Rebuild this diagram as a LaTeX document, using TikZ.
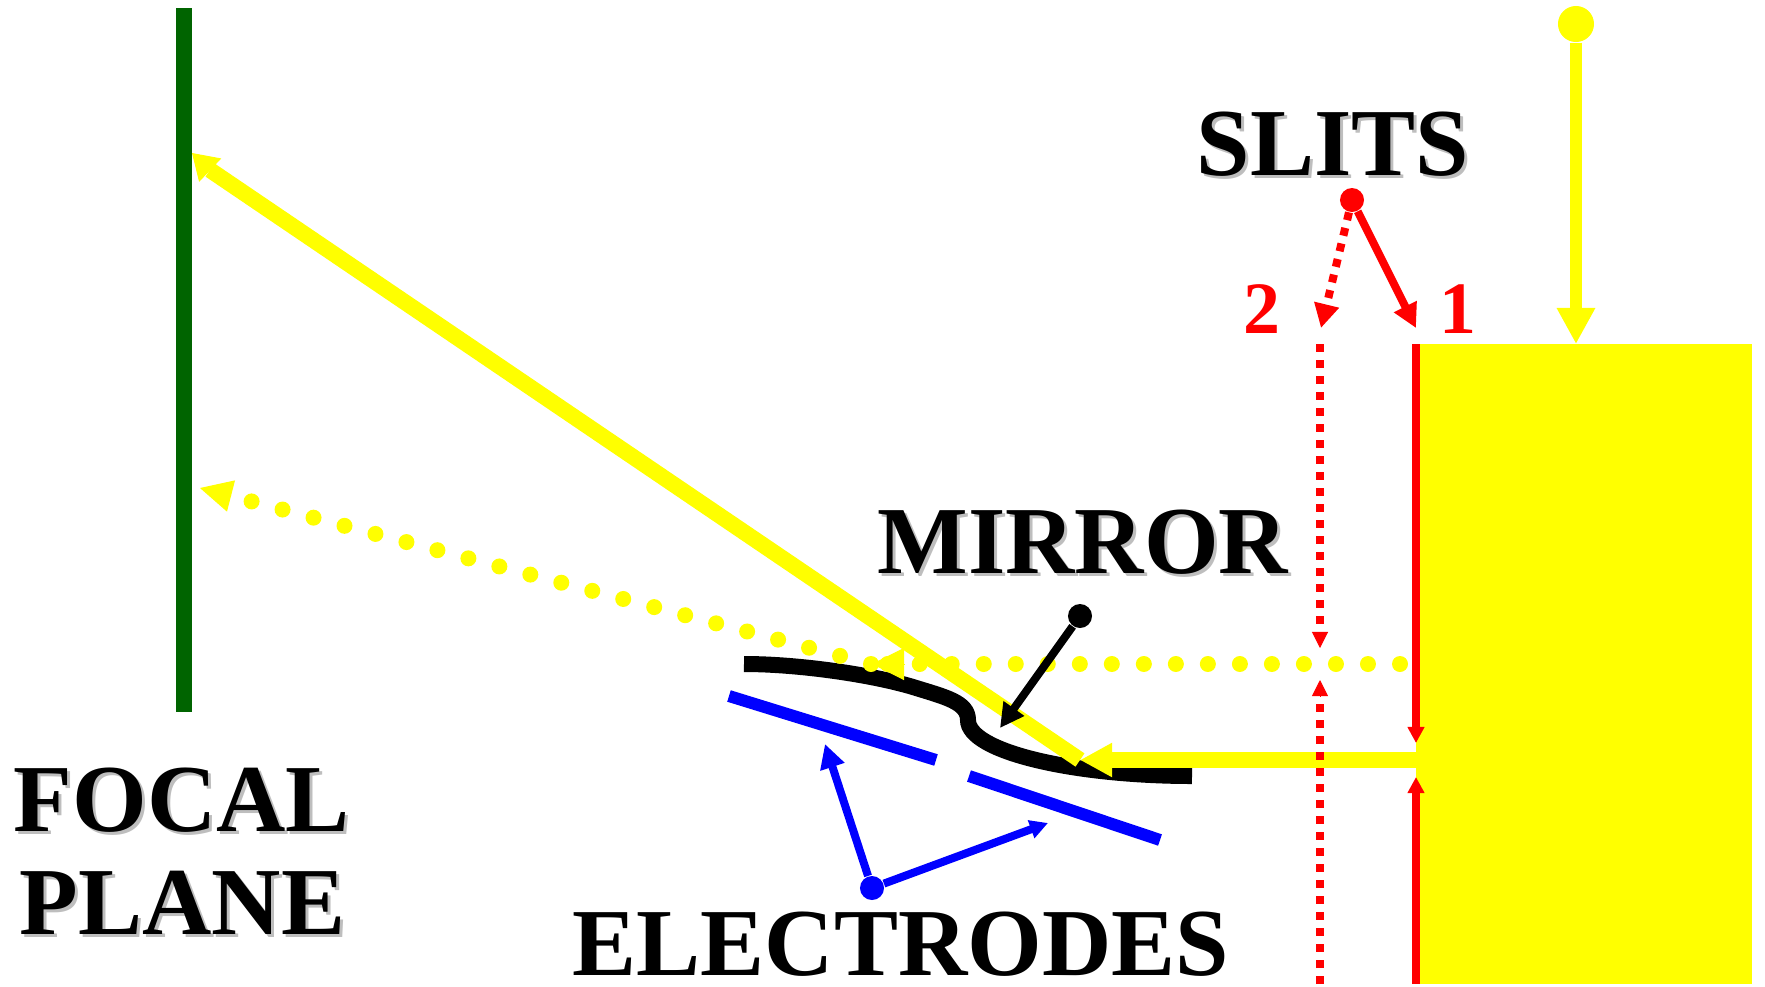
\documentclass[tikz,border=0pt]{standalone}
\usepackage{fontspec}
\setmainfont{Liberation Serif}
\usetikzlibrary{arrows.meta}
\definecolor{planegreen}{RGB}{0,100,0}
\definecolor{shadegray}{RGB}{190,190,190}
\definecolor{beamyellow}{RGB}{255,255,0}
\definecolor{slitred}{RGB}{255,0,0}
\definecolor{elblue}{RGB}{0,0,255}
\tikzset{
  lbl/.style={anchor=base west,inner sep=0pt,font=\bfseries\fontsize{27.3}{27.3}\selectfont},
  shd/.style={lbl,text=shadegray},
  num/.style={anchor=base,inner sep=0pt,text=slitred,font=\bfseries\fontsize{21}{21}\selectfont},
  blob/.style={circle,inner sep=0pt,minimum size=#1},
  beam/.style={beamyellow,line width=.16cm,-{Triangle[length=.32cm,width=.32cm]}},
  dots/.style={beamyellow,line width=.16cm,line cap=round,dash pattern=on 0cm off .32cm},
  dashes/.style={slitred,line width=.08cm,dash pattern=on .08cm off .08cm},
  arr/.style={line width=.08cm,-{Triangle[length=.24cm,width=.24cm]}},
  slitarr/.style={slitred,line width=.08cm,-{Triangle[length=.16cm,width=.16cm]}},
}
\begin{document}
\begin{tikzpicture}[x=.01cm,y=-.01cm]
\useasboundingbox (0,0) rectangle (1765,987);
% target and focal plane
\fill[beamyellow] (1416,344) rectangle (1752,984);
\fill[planegreen] (176,8) rectangle (192,712);
% slit 1
\coordinate (s1top) at (1416,344);
\coordinate (s1up) at (1416,743);
\coordinate (s1low) at (1416,777);
\coordinate (s1bot) at (1416,984);
\draw[slitarr] (s1top) -- (s1up);
\draw[slitarr] (s1bot) -- (s1low);
% mirror and electrodes
\coordinate (mirL) at (744,664);
\coordinate (mirK) at (913,687);
\coordinate (mirM) at (968,720);
\coordinate (mirR) at (1192,776);
\draw[line width=.16cm] (mirL) .. controls (800,664) and (873,675) .. (mirK) .. controls (945,697) and (968,702) .. (mirM) .. controls (968,752) and (1075,776) .. (mirR);
\coordinate (el1a) at (729,696);
\coordinate (el1b) at (936,760);
\coordinate (el2a) at (969,776);
\coordinate (el2b) at (1160,840);
\draw[elblue,line width=.12cm] (el1a) -- (el1b);
\draw[elblue,line width=.12cm] (el2a) -- (el2b);
% beams
\coordinate (hit) at (1080,760);
\coordinate (beamR) at (1416,760);
\coordinate (beamM) at (210,170);
\coordinate (beamT) at (192,153);
\draw[beam] (beamR) -- (hit);
\draw[beamyellow,line width=.16cm] (hit) -- (beamM);
\draw[beamyellow,line width=.01cm,-{Triangle[length=.25cm,width=.32cm]}] (beamM) -- (beamT);
\coordinate (dotR) at (1400,664);
\coordinate (dotH) at (886,664);
\coordinate (dotB) at (871,664);
\coordinate (dotE) at (250,501);
\draw[dots] (dotR) -- (dotH);
\draw[dots] (dotB) -- (dotE);
\coordinate (headA) at (904,664);
\coordinate (headT) at (872,664);
\coordinate (headB) at (231,496);
\coordinate (headC) at (200,488);
\draw[beamyellow,line width=.01cm,-{Triangle[length=.32cm,width=.32cm]}] (headA) -- (headT);
\draw[beamyellow,line width=.01cm,-{Triangle[length=.32cm,width=.32cm]}] (headB) -- (headC);
% slit 2
\coordinate (s2top) at (1320,344);
\coordinate (s2up) at (1320,648);
\coordinate (s2low) at (1320,680);
\coordinate (s2bot) at (1320,984);
\draw[dashes] (s2top) -- (s2up);
\draw[dashes] (s2bot) -- (s2low);
\coordinate (s2up1) at (1320,632);
\coordinate (s2low1) at (1320,696);
\draw[slitred,line width=.01cm,-{Triangle[length=.16cm,width=.16cm]}] (s2up1) -- (s2up);
\draw[slitred,line width=.01cm,-{Triangle[length=.16cm,width=.16cm]}] (s2low1) -- (s2low);
% pointers
\node[blob=.36cm,fill=beamyellow] (srcdot) at (1576,24) {};
\coordinate (srctip) at (1576,344);
\draw[beamyellow,line width=.12cm,-{Triangle[length=.36cm,width=.36cm]}] (srcdot) -- (srctip);
\node[blob=.24cm,fill=slitred] (slitdot) at (1352,200) {};
\coordinate (tip1) at (1416,328);
\coordinate (tip2) at (1321,328);
\draw[arr,slitred] (slitdot) -- (tip1);
\draw[arr,slitred,dash pattern=on .08cm off .08cm] (slitdot) -- (tip2);
\node[blob=.24cm,fill=black] (mirdot) at (1080,616) {};
\coordinate (mirtip) at (1000,728);
\draw[arr] (mirdot) -- (mirtip);
\node[blob=.24cm,fill=elblue] (eldot) at (872,888) {};
\coordinate (eltip1) at (825,744);
\coordinate (eltip2) at (1048,823);
\draw[arr,elblue] (eldot) -- (eltip1);
\draw[elblue,line width=.08cm,-{Triangle[length=.18cm,width=.18cm]}] (eldot) -- (eltip2);
% labels
\node[shd] (slitsS) at (1199,178) {SLITS};
\node[lbl] (slits) at (1196,175) {SLITS};
\node[shd] (mirrorS) at (880,576) {MIRROR};
\node[lbl] (mirror) at (877,573) {MIRROR};
\node[shd] (focalS) at (16,834) {FOCAL};
\node[lbl] (focal) at (13,831) {FOCAL};
\node[shd] (planeS) at (22,937) {PLANE};
\node[lbl] (plane) at (19,934) {PLANE};
\node[lbl] (electrodes) at (572,975) {ELECTRODES};
\node[num] (two) at (1262,333) {2};
\node[num] (one) at (1458,333) {1};
\end{tikzpicture}
\end{document}
